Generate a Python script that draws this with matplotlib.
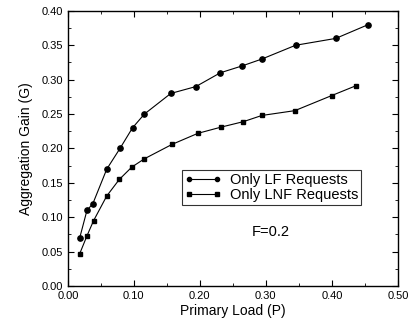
import matplotlib
matplotlib.use('Agg')
import matplotlib.pyplot as plt
from matplotlib.ticker import MultipleLocator

plt.rcParams['font.family'] = ['Liberation Sans', 'DejaVu Sans']

lf_x = [0.018, 0.029, 0.038, 0.059, 0.079, 0.098, 0.116, 0.156, 0.194,
        0.231, 0.264, 0.294, 0.345, 0.406, 0.455]
lf_y = [0.070, 0.110, 0.120, 0.170, 0.200, 0.230, 0.250, 0.280, 0.290,
        0.310, 0.320, 0.330, 0.350, 0.360, 0.380]
lnf_x = [0.018, 0.029, 0.039, 0.059, 0.078, 0.097, 0.116, 0.158, 0.197,
         0.232, 0.266, 0.294, 0.344, 0.400, 0.436]
lnf_y = [0.047, 0.073, 0.095, 0.131, 0.155, 0.173, 0.185, 0.206, 0.222,
         0.231, 0.239, 0.248, 0.255, 0.277, 0.291]

fig = plt.figure(figsize=(4.11, 3.2), dpi=100)
fig.subplots_adjust(left=0.165, right=0.968, top=0.966, bottom=0.106)
ax = fig.add_subplot(111)

ax.plot(lf_x, lf_y, color='black', lw=0.8, marker='o', ms=3.8, label='Only LF Requests')
ax.plot(lnf_x, lnf_y, color='black', lw=0.8, marker='s', ms=3.4, label='Only LNF Requests')

ax.set_xlim(0, 0.5)
ax.set_ylim(0, 0.4)
ax.xaxis.set_major_locator(MultipleLocator(0.1))
ax.xaxis.set_minor_locator(MultipleLocator(0.05))
ax.yaxis.set_major_locator(MultipleLocator(0.05))
ax.yaxis.set_minor_locator(MultipleLocator(0.025))
ax.xaxis.set_major_formatter(plt.FormatStrFormatter('%.2f'))
ax.yaxis.set_major_formatter(plt.FormatStrFormatter('%.2f'))
ax.tick_params(which='both', direction='in', top=True, right=True, labelsize=8)
ax.tick_params(which='major', length=4)
ax.tick_params(which='minor', length=2)
for s in ax.spines.values():
	s.set_linewidth(1.0)

ax.set_xlabel('Primary Load (P)', fontsize=10, labelpad=2)
ax.set_ylabel('Aggregation Gain (G)', fontsize=10, labelpad=6)

leg = ax.legend(loc='upper left', bbox_to_anchor=(0.345, 0.422), fontsize=10.5,
                frameon=True, fancybox=False, numpoints=2, handlelength=2.5,
                handletextpad=0.6, borderpad=0.2, labelspacing=0.1,
                borderaxespad=0)
frame = leg.get_frame()
frame.set_edgecolor('black')
frame.set_linewidth(0.8)
for line in leg.get_lines():
	line.set_markersize(3)

ax.text(0.615, 0.197, 'F=0.2', transform=ax.transAxes, fontsize=10.5,
        ha='center', va='center')

fig.savefig('out.png', dpi=100)
